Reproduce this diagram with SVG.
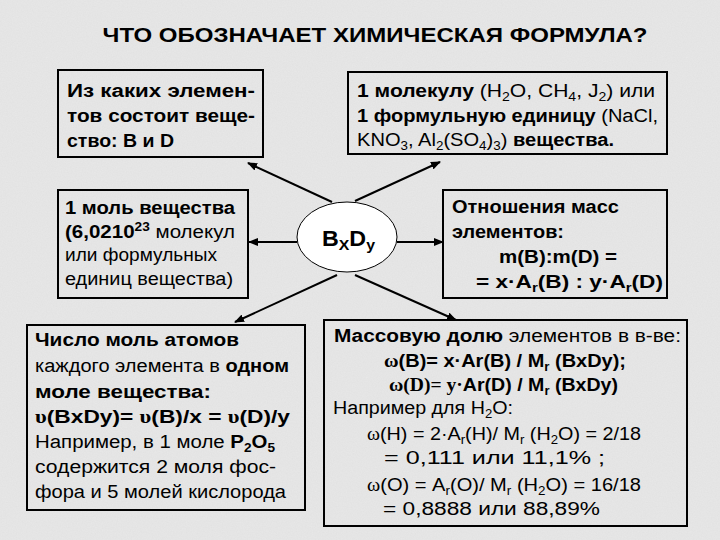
<svg xmlns="http://www.w3.org/2000/svg" width="720" height="540" viewBox="0 0 720 540">
<style>
text{font-family:"Liberation Sans",Arial,sans-serif;font-size:18px;fill:#000}
.b{font-weight:bold}
.t{font-size:21px;font-weight:bold}
.s{font-family:"Liberation Serif","Times New Roman",serif}
.box{fill:none;stroke:#000;stroke-width:2}
.c{stroke:#000;stroke-width:2;fill:none;marker-end:url(#ah)}
.sub{font-size:12px}
</style>
<defs>
<marker id="ah" markerWidth="10" markerHeight="8" refX="9" refY="4" orient="auto" markerUnits="userSpaceOnUse">
<path d="M0,0 L10,4 L0,8 Z" fill="#000"/>
</marker>
<filter id="noise" x="0" y="0" width="100%" height="100%">
<feTurbulence type="fractalNoise" baseFrequency="0.8" numOctaves="2" seed="3" result="n"/>
<feColorMatrix type="matrix" values="0 0 0 0 0.45  0 0 0 0 0.45  0 0 0 0 0.45  0 0 0 0.35 0" />
</filter>
</defs>
<rect width="720" height="540" fill="#e8e8e8"/>
<rect width="720" height="540" filter="url(#noise)" opacity="0.35"/>
<text class="t" x="375" y="42" text-anchor="middle" textLength="545" lengthAdjust="spacingAndGlyphs">ЧТО ОБОЗНАЧАЕТ ХИМИЧЕСКАЯ ФОРМУЛА?</text>

<g id="connectors">
<path class="c" d="M332,202 L248,163"/>
<path class="c" d="M355,201 L440,162"/>
<path class="c" d="M337,275 L235,322"/>
<path class="c" d="M355,275 L456,320"/>
<path class="c" d="M297,242 L249,242"/>
<path class="c" d="M397,242 L443,242"/>
</g>

<g id="n-elements">
<rect class="box" x="58" y="70" width="205" height="87"/>
<text class="b" x="67" y="97" textLength="188" lengthAdjust="spacingAndGlyphs">Из  каких  элемен-</text>
<text class="b" x="67" y="122" textLength="188" lengthAdjust="spacingAndGlyphs">тов состоит веще-</text>
<text class="b" x="67" y="147" textLength="107" lengthAdjust="spacingAndGlyphs">ство: B и D</text>
</g>

<g id="n-molecule">
<rect class="box" x="348" y="72" width="319" height="82"/>
<text x="357" y="97" textLength="298" lengthAdjust="spacingAndGlyphs"><tspan class="b">1 молекулу</tspan> (H<tspan class="sub" dy="4">2</tspan><tspan dy="-4">O, CH</tspan><tspan class="sub" dy="4">4</tspan><tspan dy="-4">, J</tspan><tspan class="sub" dy="4">2</tspan><tspan dy="-4">) или</tspan></text>
<text x="357" y="122" textLength="301" lengthAdjust="spacingAndGlyphs"><tspan class="b">1 формульную единицу</tspan> (NaCl,</text>
<text x="357" y="146" textLength="257" lengthAdjust="spacingAndGlyphs">KNO<tspan class="sub" dy="4">3</tspan><tspan dy="-4">, Al</tspan><tspan class="sub" dy="4">2</tspan><tspan dy="-4">(SO</tspan><tspan class="sub" dy="4">4</tspan><tspan dy="-4">)</tspan><tspan class="sub" dy="4">3</tspan><tspan dy="-4">) </tspan><tspan class="b">вещества.</tspan></text>
</g>

<g id="n-mole">
<rect class="box" x="58" y="190" width="190" height="108"/>
<text class="b" x="65" y="214" textLength="170" lengthAdjust="spacingAndGlyphs">1 моль вещества</text>
<text x="65" y="238" textLength="170" lengthAdjust="spacingAndGlyphs"><tspan class="b">(6,0210</tspan><tspan class="b sub" dy="-7">23</tspan><tspan dy="7"> молекул</tspan></text>
<text x="65" y="261" textLength="152" lengthAdjust="spacingAndGlyphs">или формульных</text>
<text x="65" y="285" textLength="168" lengthAdjust="spacingAndGlyphs">единиц вещества)</text>
</g>

<g id="n-formula">
<ellipse cx="347" cy="237" rx="50" ry="35" fill="#fff" stroke="#000" stroke-width="1"/>
<text class="b" x="322" y="246" style="font-size:22px" textLength="53" lengthAdjust="spacingAndGlyphs">B<tspan style="font-size:15px" dy="4">X</tspan><tspan dy="-4">D</tspan><tspan style="font-size:15px" dy="4">y</tspan></text>
</g>

<g id="n-ratio">
<rect class="box" x="443" y="190" width="224" height="108"/>
<text class="b" x="452" y="213" textLength="167" lengthAdjust="spacingAndGlyphs">Отношения масс</text>
<text class="b" x="452" y="238" textLength="112" lengthAdjust="spacingAndGlyphs">элементов:</text>
<text class="b" x="499" y="263" textLength="118" lengthAdjust="spacingAndGlyphs">m(B):m(D) =</text>
<text class="b" x="476" y="288" textLength="187" lengthAdjust="spacingAndGlyphs">= x·A<tspan class="sub" dy="4">r</tspan><tspan dy="-4">(B) : y·A</tspan><tspan class="sub" dy="4">r</tspan><tspan dy="-4">(D)</tspan></text>
</g>

<g id="n-atoms">
<rect class="box" x="27" y="325" width="278" height="185"/>
<text class="b" x="35" y="346" textLength="204" lengthAdjust="spacingAndGlyphs">Число моль атомов</text>
<text x="35" y="372" textLength="254" lengthAdjust="spacingAndGlyphs">каждого элемента в <tspan class="b">одном</tspan></text>
<text class="b" x="35" y="398" textLength="176" lengthAdjust="spacingAndGlyphs">моле вещества:</text>
<text class="b" x="35" y="423" textLength="255" lengthAdjust="spacingAndGlyphs"><tspan class="s">υ</tspan>(BxDy)= <tspan class="s">υ</tspan>(B)/x = <tspan class="s">υ</tspan>(D)/y</text>
<text x="35" y="448" textLength="240" lengthAdjust="spacingAndGlyphs">Например, в 1 моле <tspan class="b">P</tspan><tspan class="b sub" dy="4">2</tspan><tspan class="b" dy="-4">O</tspan><tspan class="b sub" dy="4">5</tspan></text>
<text x="35" y="473" textLength="241" lengthAdjust="spacingAndGlyphs">содержится 2 моля фос-</text>
<text x="35" y="498" textLength="251" lengthAdjust="spacingAndGlyphs">фора и 5 молей кислорода</text>
</g>

<g id="n-massfraction">
<rect class="box" x="324" y="320" width="363" height="206"/>
<text x="334" y="342" textLength="347" lengthAdjust="spacingAndGlyphs"><tspan class="b">Массовую долю</tspan> элементов в в-ве:</text>
<text class="b" x="384" y="367" textLength="242" lengthAdjust="spacingAndGlyphs"><tspan class="s">ω</tspan>(B)= x·Ar(B) / M<tspan class="sub" dy="4">r</tspan><tspan dy="-4"> (BxDy);</tspan></text>
<text class="b" x="389" y="391" textLength="229" lengthAdjust="spacingAndGlyphs"><tspan class="s">ω(D)= y·</tspan>Ar(D) / M<tspan class="sub" dy="4">r</tspan><tspan dy="-4"> (BxDy)</tspan></text>
<text x="333" y="414" textLength="180" lengthAdjust="spacingAndGlyphs">Например для H<tspan class="sub" dy="4">2</tspan><tspan dy="-4">O:</tspan></text>
<text x="367" y="440" textLength="274" lengthAdjust="spacingAndGlyphs"><tspan class="s">ω</tspan>(H) = 2·A<tspan class="sub" dy="4">r</tspan><tspan dy="-4">(H)/ M</tspan><tspan class="sub" dy="4">r</tspan><tspan dy="-4"> (H</tspan><tspan class="sub" dy="4">2</tspan><tspan dy="-4">O) = 2/18</tspan></text>
<text x="384" y="464" textLength="221" lengthAdjust="spacingAndGlyphs">= 0,111  или 11,1% ;</text>
<text x="367" y="491" textLength="274" lengthAdjust="spacingAndGlyphs"><tspan class="s">ω</tspan>(O) = A<tspan class="sub" dy="4">r</tspan><tspan dy="-4">(O)/ M</tspan><tspan class="sub" dy="4">r</tspan><tspan dy="-4"> (H</tspan><tspan class="sub" dy="4">2</tspan><tspan dy="-4">O) = 16/18</tspan></text>
<text x="383" y="515" textLength="217" lengthAdjust="spacingAndGlyphs">= 0,8888 или 88,89%</text>
</g>
</svg>
